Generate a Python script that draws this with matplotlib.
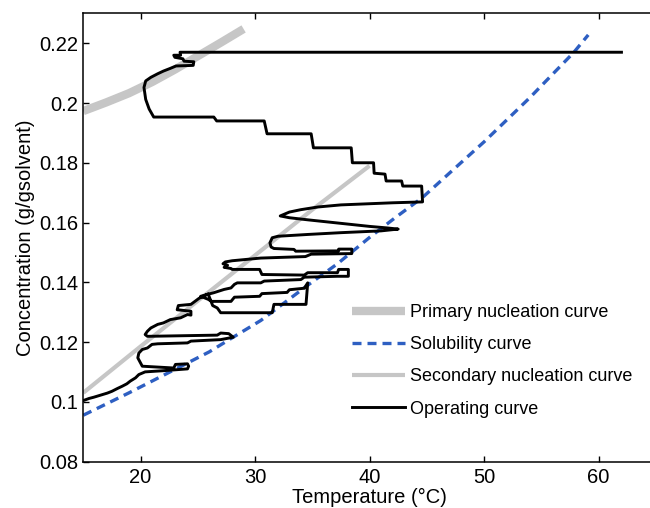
import matplotlib
matplotlib.use('Agg')
import matplotlib.pyplot as plt

plt.rcParams['font.family'] = ['Liberation Sans', 'DejaVu Sans']

# Primary nucleation curve
prim_T = [15, 17, 19, 21, 23, 25, 27, 29]
prim_C = [0.1973, 0.2002, 0.2033, 0.2070, 0.2112, 0.2157, 0.2202, 0.2248]

# Solubility curve
sol_T = [15, 19, 23.5, 26, 28, 30.5, 34.6, 37.2, 40, 42.2, 44.6, 50, 54, 57.85, 59.1]
sol_C = [0.0955, 0.1030, 0.1118, 0.1167, 0.1214, 0.1272, 0.1390, 0.1462, 0.1550,
         0.1615, 0.1683, 0.1870, 0.2018, 0.2170, 0.2228]

# Secondary nucleation curve
sec_T = [15, 20, 25, 30, 35, 40]
sec_C = [0.1030, 0.1185, 0.1338, 0.1490, 0.1643, 0.1790]

# Operating curve
op_T = [62.0, 23.45, 23.5, 22.9, 23.0, 23.7, 23.8, 24.65, 24.6, 23.1, 22.6, 22.0, 21.5,
        20.9, 20.45, 20.3, 20.45, 20.75, 21.15, 26.4, 26.65, 30.8, 31.05, 34.9, 35.1,
        38.4, 38.5, 40.35, 40.4, 41.35, 41.45, 42.8, 42.9, 44.55, 44.63,
        42.0, 40.0, 37.5, 35.5, 34.0, 33.0, 32.2,
        33.0, 34.6, 37.5, 40.0, 41.5, 42.5,
        41.0, 37.5, 34.6, 32.0, 31.5, 31.3, 31.4, 31.65, 33.4, 33.55, 37.3, 37.3, 38.45, 38.45,
        34.9, 34.4, 30.5, 29.1, 28.0, 27.4,
        27.2, 27.6, 27.3, 27.9, 28.0,
        30.4, 30.6, 34.3, 34.6, 37.2, 37.3, 38.15, 38.15,
        37.2, 34.3, 34.0, 30.8, 30.5, 28.45, 28.2, 27.9, 27.3, 26.4, 25.8, 25.25,
        25.9, 26.2, 27.9, 28.2, 30.4, 30.6, 32.8, 33.0, 34.3, 34.6,
        34.45, 31.65, 31.5, 27.0, 26.7, 26.3, 26.2, 25.9, 25.1, 24.4, 23.3, 23.2, 24.4, 24.4,
        24.1, 23.5, 22.6, 22.0, 21.5, 20.9, 20.6, 20.4, 20.6,
        26.7, 27.0, 27.7, 28.1,
        27.0, 24.4, 24.1, 21.5, 21.0, 20.6, 20.15, 19.85, 19.76, 20.0, 20.15,
        22.9, 23.05, 24.1, 24.2, 24.1,
        22.0, 20.4, 19.85, 19.56, 19.1, 18.8, 18.4, 17.96, 17.5, 17.1, 16.5, 15.9, 15.5, 15.0]
op_C = [0.2170, 0.2170, 0.2160, 0.2160, 0.2153, 0.2148, 0.2140, 0.2138, 0.2126, 0.2124,
        0.2116, 0.2107, 0.2098, 0.2086, 0.2074, 0.2052, 0.2012, 0.1980, 0.1953, 0.1953,
        0.1940, 0.1940, 0.1897, 0.1897, 0.1850, 0.1850, 0.1800, 0.1800, 0.1765, 0.1762,
        0.1739, 0.1739, 0.1722, 0.1722, 0.1669,
        0.1666, 0.1663, 0.1659, 0.1652, 0.1643, 0.1635, 0.1622,
        0.1616, 0.1609, 0.1597, 0.1587, 0.1582, 0.1578,
        0.1572, 0.1566, 0.1560, 0.1554, 0.1549, 0.1532, 0.1518, 0.1513, 0.1510, 0.1504,
        0.1505, 0.1511, 0.1511, 0.1496,
        0.1494, 0.1486, 0.1481, 0.1476, 0.1472, 0.1468,
        0.1462, 0.1457, 0.1450, 0.1446, 0.1443,
        0.1443, 0.1426, 0.1424, 0.1432, 0.1432, 0.1443, 0.1443, 0.1420,
        0.1420, 0.1417, 0.1409, 0.1404, 0.1398, 0.1398, 0.1393, 0.1381, 0.1376, 0.1365,
        0.1359, 0.1353,
        0.1343, 0.1336, 0.1336, 0.1350, 0.1353, 0.1362, 0.1366, 0.1375, 0.1380, 0.1398,
        0.1326, 0.1326, 0.1298, 0.1298, 0.1314, 0.1322, 0.1332, 0.1361, 0.1346, 0.1326,
        0.1322, 0.1308, 0.1303, 0.1290,
        0.1292, 0.1281, 0.1275, 0.1264, 0.1259, 0.1247, 0.1236, 0.1225, 0.1219,
        0.1223, 0.1230, 0.1228, 0.1216,
        0.1208, 0.1203, 0.1197, 0.1194, 0.1192, 0.1180, 0.1175, 0.1163, 0.1147, 0.1130,
        0.1119,
        0.1113, 0.1125, 0.1127, 0.1119, 0.1110,
        0.1104, 0.1100, 0.1091, 0.1080, 0.1069, 0.1060, 0.1052, 0.1044, 0.1035, 0.1029,
        0.1022, 0.1015, 0.1011, 0.1004]

x_ticks = [20, 30, 40, 50, 60]
y_ticks = [0.08, 0.10, 0.12, 0.14, 0.16, 0.18, 0.20, 0.22]
y_tick_labels = ['0.08', '0.1', '0.12', '0.14', '0.16', '0.18', '0.2', '0.22']

fig = plt.figure(figsize=(6.5, 5.08), dpi=100)
ax = fig.add_axes([83.3 / 650, 1 - 461.5 / 508, 572.5 / 650, 448.1 / 508])

ax.plot(prim_T, prim_C, color='#c6c6c6', linewidth=6, solid_capstyle='butt',
        label='Primary nucleation curve')
ax.plot(sol_T, sol_C, color='#2e5fc2', linewidth=2.4, dashes=(2.7, 1.8),
        label='Solubility curve')
ax.plot(sec_T, sec_C, color='#c6c6c6', linewidth=3, solid_capstyle='butt',
        label='Secondary nucleation curve')
ax.plot(op_T, op_C, color='black', linewidth=2.1, label='Operating curve')

ax.set_xlim(15, 65)
ax.set_ylim(0.08, 0.23)
ax.set_xticks(x_ticks)
ax.set_yticks(y_ticks)
ax.set_yticklabels(y_tick_labels)
ax.tick_params(direction='in', top=True, right=True, length=4.5, width=1,
               labelsize=14.5)
ax.tick_params(axis='x', pad=5)
ax.tick_params(axis='y', pad=3.5)
for s in ax.spines.values():
    s.set_linewidth(1.1)

ax.set_xlabel('Temperature (°C)', fontsize=14.5, labelpad=0.5)
ax.set_ylabel('Concentration (g/gsolvent)', fontsize=14.5, labelpad=3)

leg = ax.legend(loc='upper left', bbox_to_anchor=(352 / 650, 1 - 304 / 508),
                bbox_transform=fig.transFigure, frameon=False, fontsize=13,
                handlelength=2.93, handletextpad=0.28, labelspacing=0.84,
                borderpad=0, borderaxespad=0)

fig.savefig('out.png', dpi=100)
